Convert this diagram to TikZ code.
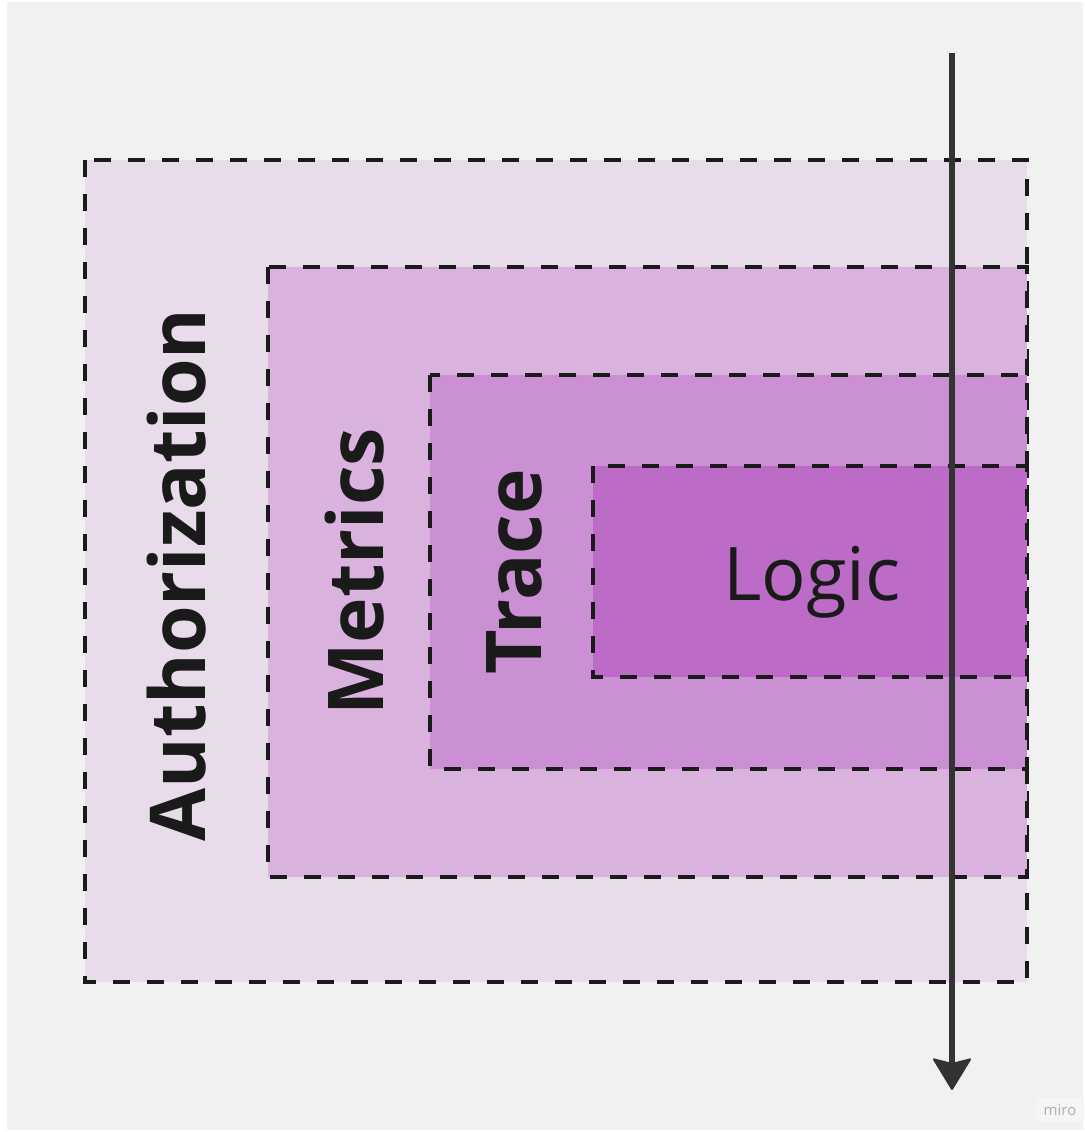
\documentclass[tikz,border=0pt]{standalone}
\usepackage{fontspec}
\setmainfont{Open Sans}
\usetikzlibrary{arrows.meta}
\definecolor{bgc}{RGB}{241,241,241}
\definecolor{authc}{RGB}{232,220,234}
\definecolor{metc}{RGB}{217,179,222}
\definecolor{trc}{RGB}{203,143,212}
\definecolor{logc}{RGB}{188,107,199}
\definecolor{edgec}{RGB}{26,26,26}
\definecolor{arrc}{RGB}{51,51,51}
\definecolor{miroc}{RGB}{175,175,188}
\definecolor{badgec}{RGB}{245,245,245}
\tikzset{
  layer/.style={draw=edgec, line width=3.6pt, dash pattern=on 17pt off 17pt},
  vlabel/.style={rotate=90, anchor=base, font=\bfseries\fontsize{77pt}{77pt}\selectfont, text=edgec, inner sep=0pt},
  flow/.style={draw=arrc, line width=6pt, -{Stealth[length=33pt, width=40pt, inset=5pt, line width=2pt, round, fill=arrc]}}
}
\begin{document}
\begin{tikzpicture}[x=1pt, y=-1pt]
\useasboundingbox (0,0) rectangle (1084,1132);
\fill[white] (0,0) rectangle (1084,1132);
\fill[bgc] (7,2) rectangle (1083,1130);
% layers
\path[layer, fill=authc] (85,160) rectangle (1027,982);
\path[layer, fill=metc] (268,267) rectangle (1027,877);
\path[layer, fill=trc] (430,375) rectangle (1027,769);
\path[layer, fill=logc] (593,466) rectangle (1027,677);
% labels
\node[vlabel] (auth) at (205,575) {Authorization};
\node[vlabel] (met) at (383,572) {Metrics};
\node[vlabel] (tr) at (541,572) {Trace};
\node[anchor=base, font=\fontsize{74pt}{74pt}\selectfont, text=edgec, inner sep=0pt] (logic) at (812,600) {Logic};
% arrow
\coordinate (astart) at (952,53);
\coordinate (aend) at (952,1090);
\draw[flow] (astart) -- (aend);
% watermark
\node[fill=badgec, font=\fontsize{15pt}{15pt}\selectfont, text=miroc, inner xsep=8pt, inner ysep=6pt] (miro) at (1060,1110) {miro};
\end{tikzpicture}
\end{document}
